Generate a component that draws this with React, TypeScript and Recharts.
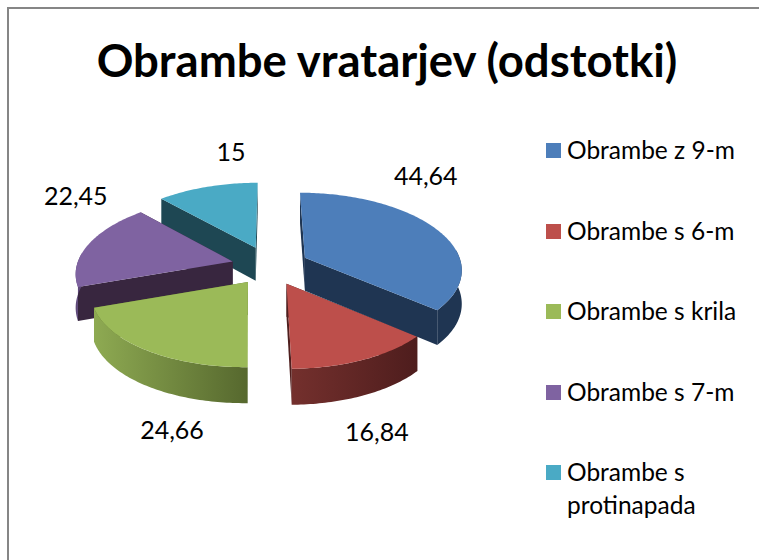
import React from "react";
import { PieChart, Pie, Legend } from "recharts";

const categories = ["Obrambe z 9-m", "Obrambe s 6-m", "Obrambe s krila", "Obrambe s 7-m", "Obrambe s protinapada"];
const values = [44.64, 16.84, 24.66, 22.45, 15];
const topColors = ["#4D7EBA", "#BD4F4B", "#9BBA58", "#7F63A1", "#4AAAC5"];
const wallColors = ["#1F3552", "#4F1F1E", "#5A6C30", "#38263F", "#1E4753"];
const rimStart = ["#1F3552", "#74302D", "#8EAA52", "#5E4879", "#1E4753"];
const rimEnd = ["#1F3552", "#4E1D1D", "#56682E", "#5E4879", "#1E4753"];
// label shift from the projected mid-angle spot, same order as categories
const labelShift = [[24, -61], [32, 89], [1, 95], [-49, -54], [11, -54]];

// drawn back to front, so the slices go counter-clockwise from the top
const pieData = categories
  .map((name, i) => ({ name, value: values[i], fill: topColors[i], idx: i }))
  .reverse();

const RAD = Math.PI / 180;
const DEPTH = 33;

// flat disc angle -> tilted screen offset, front of the pie is a bit bigger
const project = (angle: number, r: number) => {
  const u = Math.cos(angle * RAD);
  const v = -Math.sin(angle * RAD);
  return { x: r * u * (0.985 + 0.14 * v), y: r * (0.478 * v + 0.064 * v * v), v };
};

const explodeOffset = (mid: number, r: number) => ({
  x: r * 0.245 * Math.cos(mid * RAD),
  y: -r * 0.125 * Math.sin(mid * RAD),
});

const Slice3D = (props: any) => {
  const { cx, cy, outerRadius: r, startAngle, endAngle, payload } = props;
  const a0 = Math.min(startAngle, endAngle);
  const a1 = Math.max(startAngle, endAngle);
  const mid = (a0 + a1) / 2;
  const idx = payload?.idx ?? props.idx;
  const off = explodeOffset(mid, r);
  const ax = cx + off.x;
  const ay = cy + off.y;

  // the exploded offset also spreads a little towards the front
  const place = (a: number) => {
    const p = project(a, r);
    return { x: ax + p.x + off.x * 0.14 * p.v, y: ay + p.y, v: p.v };
  };

  const arc: { x: number; y: number; v: number }[] = [];
  for (let a = a0; a < a1; a += 1) {
    arc.push(place(a));
  }
  arc.push(place(a1));

  const toPts = (pts: { x: number; y: number }[]) => pts.map((p) => `${p.x},${p.y}`).join(" ");
  const first = arc[0];
  const end = arc[arc.length - 1];
  const wall = (p: { x: number; y: number; v: number }) =>
    toPts([
      { x: ax, y: ay },
      p,
      { x: p.x, y: p.y + DEPTH + 3 * p.v },
      { x: ax, y: ay + DEPTH },
    ]);

  const front = arc.filter((p) => p.v > -0.12);
  const rim = front.length
    ? toPts([...front, ...[...front].reverse().map((p) => ({ x: p.x, y: p.y + DEPTH + 3 * p.v }))])
    : "";
  const gradId = `rim${idx}`;

  return (
    <g>
      <defs>
        <linearGradient id={gradId} x1="0" y1="0" x2="1" y2="0">
          <stop offset="0%" stopColor={rimStart[idx]} />
          <stop offset="100%" stopColor={rimEnd[idx]} />
        </linearGradient>
      </defs>
      <polygon points={wall(first)} fill={wallColors[idx]} />
      <polygon points={wall(end)} fill={wallColors[idx]} />
      {rim && <polygon points={rim} fill={`url(#${gradId})`} />}
      <polygon points={toPts([{ x: ax, y: ay }, ...arc])} fill={topColors[idx]} />
    </g>
  );
};

const renderLabel = (props: any) => {
  const { cx, cy, outerRadius: r, midAngle, value, payload } = props;
  const idx = payload?.idx ?? props.idx;
  const p = project(midAngle, r);
  const [dx, dy] = labelShift[idx];
  return (
    <text
      x={cx + p.x + dx}
      y={cy + p.y + dy}
      textAnchor="middle"
      dominantBaseline="central"
      fontFamily="Lato"
      fontSize={25}
      fill="#000"
    >
      {String(value).replace(".", ",")}
    </text>
  );
};

const LegendBox = () => (
  <div style={{ fontFamily: "Lato", fontSize: 24.5, lineHeight: "33px", color: "#000" }}>
    {categories.map((name, i) => (
      <div key={name} style={{ display: "flex", height: 80.5, alignItems: "flex-start" }}>
        <span style={{ width: 15, height: 15, marginTop: 10, marginRight: 6, background: topColors[i], flex: "none" }} />
        <span style={{ width: 180 }}>{name}</span>
      </div>
    ))}
  </div>
);

const App: React.FC = () => {
  return (
    <div style={{ position: "absolute", left: 0, top: 0, width: 759, height: 560, overflow: "hidden", background: "#fff" }}>
      <div style={{ position: "absolute", left: 7, top: 7, width: 800, height: 600, border: "2px solid #868686" }} />
      <PieChart width={759} height={560} margin={{ top: 0, right: 0, bottom: 0, left: 0 }} style={{ position: "absolute", left: 0, top: 0 }}>
        <text x={387} y={59} textAnchor="middle" dominantBaseline="central" fontFamily="Lato" fontWeight="bold" fontSize={45.5} fill="#000">
          Obrambe vratarjev (odstotki)
        </text>
        <Pie
          data={pieData}
          dataKey="value"
          nameKey="name"
          cx={270}
          cy={266}
          outerRadius={157}
          startAngle={90}
          endAngle={450}
          stroke="none"
          isAnimationActive={false}
          shape={Slice3D}
          label={renderLabel}
          labelLine={false}
        />
        <Legend
          content={LegendBox}
          wrapperStyle={{ position: "absolute", left: 546, top: 133, width: 205, bottom: "auto", right: "auto" }}
        />
      </PieChart>
    </div>
  );
};

export default App;
